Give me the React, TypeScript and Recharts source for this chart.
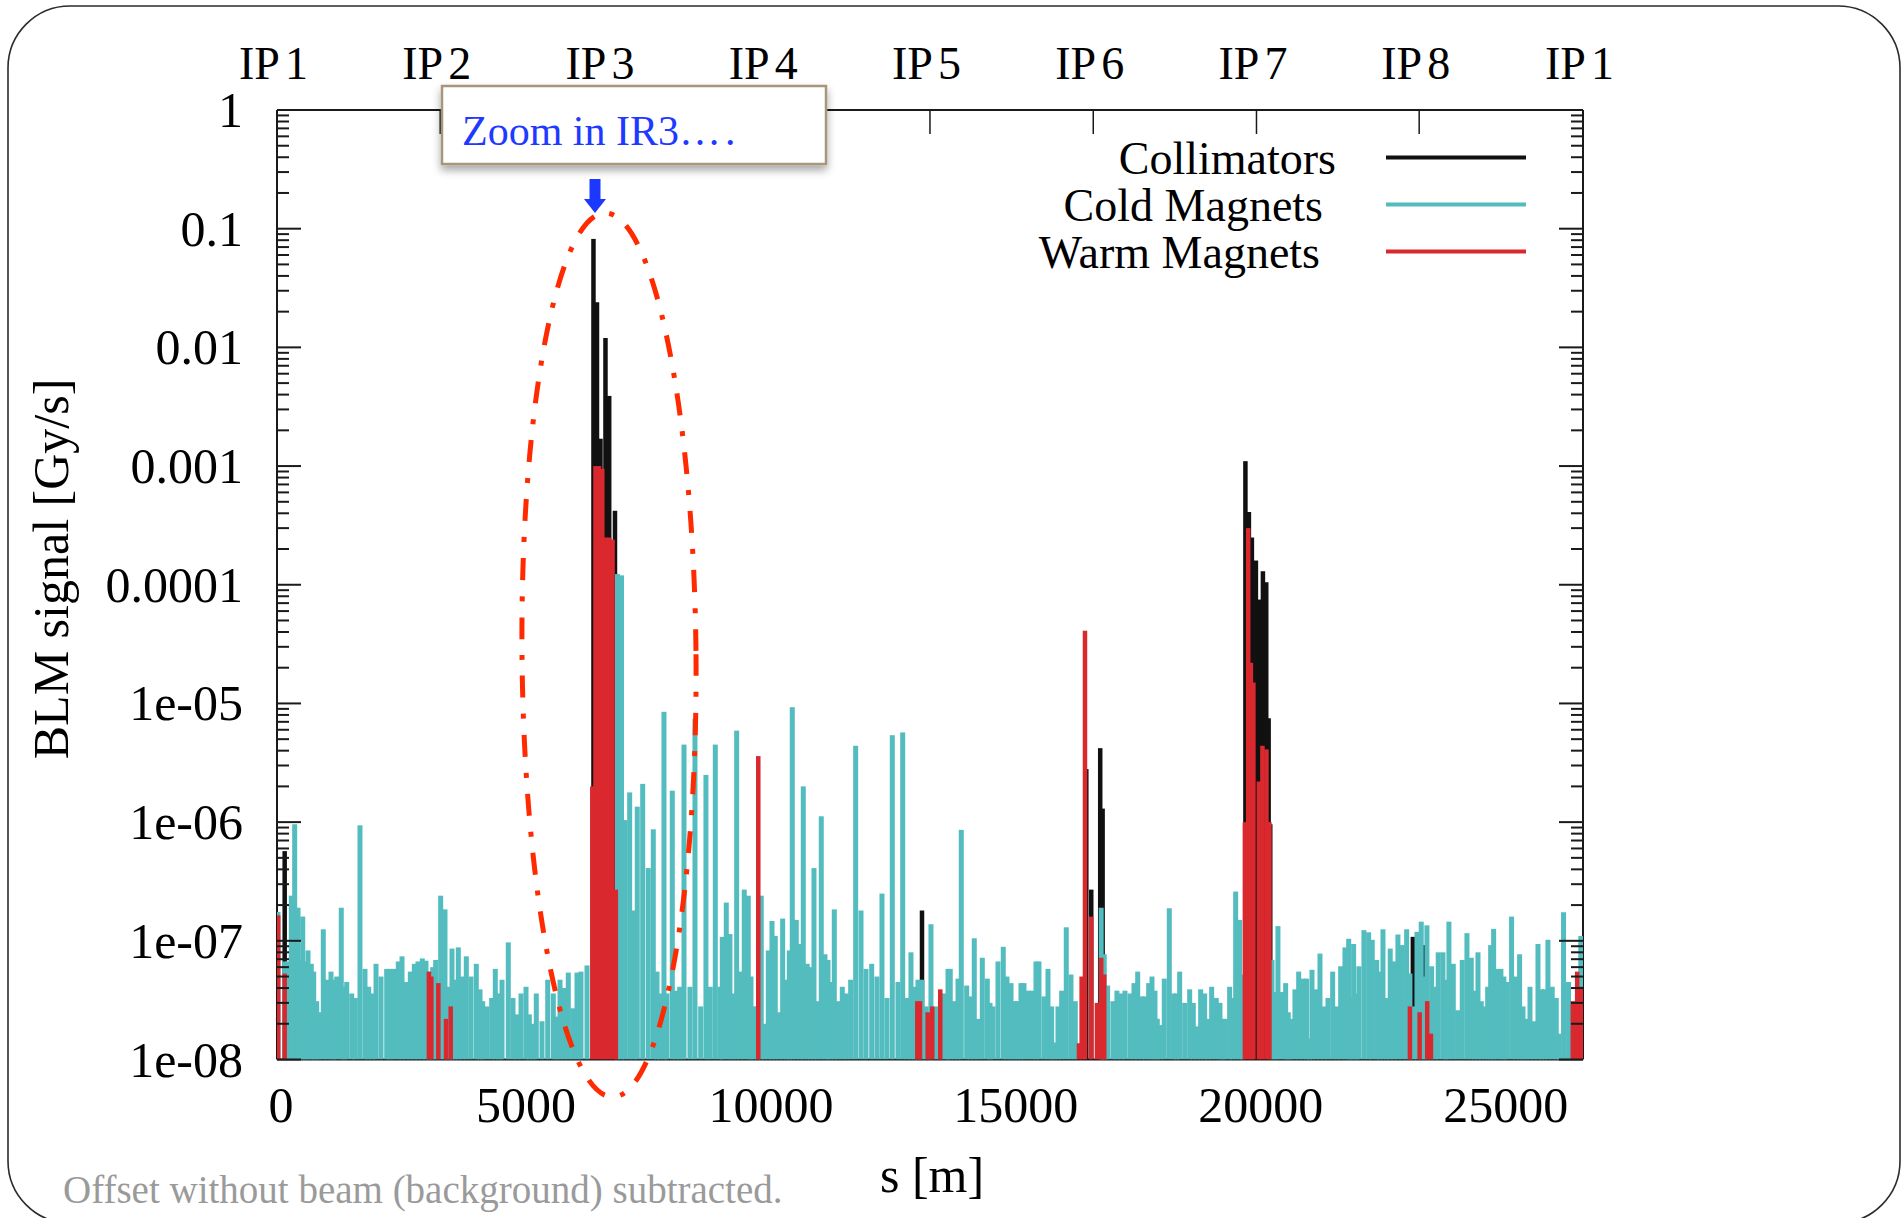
import React from 'react';
import { ComposedChart, Scatter, XAxis, YAxis, Legend } from 'recharts';

// LHC ring, metres
const RING = 26659;
const IP_POS = [0, 3332, 6664, 9997, 13329, 16662, 19994, 23315, 26659];
const IP_LABELS = ['IP1', 'IP2', 'IP3', 'IP4', 'IP5', 'IP6', 'IP7', 'IP8', 'IP1'];
const S_TICKS = [0, 5000, 10000, 15000, 20000, 25000];
const Y_DECADES = [1e-8, 1e-7, 1e-6, 1e-5, 1e-4, 1e-3, 1e-2, 1e-1, 1];
const Y_TICK_LABELS = ['1e-08', '1e-07', '1e-06', '1e-05', '0.0001', '0.001', '0.01', '0.1', '1'];
const MINOR_STEPS = [2, 3, 4, 5, 6, 7, 8, 9];

const SERIES_ORDER = ['Collimators', 'Cold Magnets', 'Warm Magnets'];

// [s (m), BLM signal (Gy/s)]
const collimators: [number, number][] = [
  [157, 5.7e-7], [6460, 8.2e-2], [6532, 2.4e-2], [6603, 1.7e-3], [6705, 1.2e-2], [6781, 3.9e-3],
  [6899, 4.2e-4], [13166, 1.8e-7], [16520, 2.8e-6], [16621, 2.7e-7], [16804, 4.2e-6], [16853, 1.3e-6],
  [19768, 1.1e-3], [19839, 4.1e-4], [19900, 2.5e-4], [19982, 1.6e-4], [20054, 7.5e-5], [20125, 1.3e-4],
  [20193, 1.05e-4], [20242, 7.5e-6], [20275, 9.6e-7], [23186, 1.08e-7], [23418, 9.2e-8],
];

const coldMagnets: [number, number][] = [
  [20, 1.75e-7], [157, 6.7e-8], [225, 6.7e-8], [292, 2.4e-7], [361, 9.6e-7], [429, 1.9e-7], [469, 6.8e-8],
  [525, 1.6e-7], [578, 6.7e-8], [633, 8.3e-8], [700, 6.4e-8], [749, 5.5e-8], [810, 3.1e-8], [863, 2.5e-8],
  [945, 1.25e-7], [1021, 4.7e-8], [1102, 5.5e-8], [1157, 4.7e-8], [1219, 5.0e-8], [1312, 1.9e-7],
  [1368, 4.1e-8], [1423, 4.5e-8], [1525, 3.6e-8], [1598, 3.3e-8], [1694, 9.4e-7], [1796, 5.8e-8],
  [1872, 4.1e-8], [1939, 3.6e-8], [2021, 6.4e-8], [2123, 5.0e-8], [2239, 5.8e-8], [2307, 5.8e-8],
  [2382, 5.8e-8], [2476, 6.7e-8], [2552, 7.4e-8], [2633, 4.5e-8], [2721, 5.5e-8], [2803, 6.4e-8],
  [2878, 6.7e-8], [2966, 7.1e-8], [3041, 6.8e-8], [3109, 5.5e-8], [3178, 6.0e-8], [3239, 6.9e-8],
  [3341, 2.4e-7], [3429, 1.84e-7], [3505, 4.1e-8], [3572, 8.6e-8], [3633, 4.7e-8], [3701, 8.8e-8],
  [3782, 5.0e-8], [3864, 7.4e-8], [3960, 5.0e-8], [4068, 6.4e-8], [4144, 3.9e-8], [4199, 3.1e-8],
  [4287, 2.8e-8], [4382, 3.3e-8], [4456, 5.8e-8], [4531, 3.6e-8], [4593, 4.7e-8], [4721, 9.7e-8],
  [4817, 3.3e-8], [4893, 2.4e-8], [4981, 3.6e-8], [5083, 4.1e-8], [5150, 2.4e-8], [5220, 2.0e-8],
  [5293, 3.6e-8], [5409, 2.1e-8], [5526, 4.7e-8], [5640, 3.6e-8], [5709, 2.3e-8], [5777, 4.7e-8],
  [5858, 4.0e-8], [5946, 5.4e-8], [6036, 2.7e-8], [6124, 5.4e-8], [6205, 5.5e-8], [6328, 6.2e-8],
  [6950, 1.23e-4], [7032, 1.2e-4], [7103, 1.04e-6], [7199, 1.78e-6], [7281, 1.8e-7], [7354, 1.35e-6],
  [7465, 2.1e-6], [7579, 4.1e-7], [7681, 8.7e-7], [7757, 5.5e-8], [7812, 3.6e-8], [7899, 8.5e-6],
  [7961, 3.6e-8], [8069, 1.84e-6], [8144, 3.8e-8], [8220, 4.1e-8], [8308, 4.5e-6], [8430, 4.1e-8],
  [8532, 7.4e-6], [8648, 2.8e-8], [8756, 2.5e-6], [8844, 4.1e-8], [8947, 4.5e-6], [9043, 4.1e-8],
  [9090, 1.08e-7], [9171, 2.1e-7], [9246, 1.14e-7], [9308, 3.6e-8], [9383, 5.9e-6], [9457, 5.5e-8],
  [9538, 2.7e-7], [9620, 2.4e-7], [9675, 5.0e-8], [9730, 2.8e-8], [9808, 2.8e-8], [9885, 2.4e-7],
  [9947, 2.0e-8], [10028, 8.3e-8], [10104, 1.47e-7], [10171, 1.1e-7], [10247, 2.5e-8], [10322, 1.54e-7],
  [10404, 4.7e-8], [10457, 8.3e-8], [10518, 9.3e-6], [10600, 1.5e-7], [10675, 9.4e-8], [10743, 2.0e-6],
  [10824, 6.4e-8], [10886, 6.0e-8], [10961, 4.1e-7], [11029, 3.1e-8], [11110, 1.12e-6], [11186, 7.7e-8],
  [11247, 6.9e-8], [11302, 4.5e-8], [11376, 1.84e-7], [11451, 3.1e-8], [11539, 4.1e-8], [11621, 3.6e-8],
  [11710, 4.7e-8], [11812, 4.4e-6], [11921, 1.8e-7], [12023, 5.8e-8], [12139, 6.4e-8], [12247, 5.0e-8],
  [12349, 2.5e-7], [12451, 3.3e-8], [12560, 5.4e-6], [12676, 4.5e-8], [12772, 5.7e-6], [12860, 3.3e-8],
  [12941, 8.0e-8], [13009, 4.1e-8], [13084, 4.7e-8], [13166, 4.7e-8], [13253, 2.8e-8], [13349, 1.38e-7],
  [13457, 2.8e-8], [13548, 3.6e-8], [13635, 3.6e-8], [13697, 5.8e-8], [13743, 5.8e-8], [13825, 3.1e-8],
  [13901, 4.8e-8], [13968, 8.6e-7], [14078, 4.2e-8], [14152, 3.4e-8], [14233, 1.05e-7], [14309, 2.2e-8],
  [14397, 7.2e-8], [14499, 4.8e-8], [14554, 3.0e-8], [14615, 2.8e-8], [14717, 6.7e-8], [14825, 8.9e-8],
  [14901, 5.0e-8], [14983, 4.4e-8], [15050, 3.1e-8], [15119, 3.1e-8], [15187, 4.4e-8], [15248, 4.4e-8],
  [15335, 3.8e-8], [15417, 3.8e-8], [15493, 6.7e-8], [15554, 6.7e-8], [15656, 3.4e-8], [15738, 5.8e-8],
  [15813, 2.8e-8], [15866, 1.39e-8], [15942, 2.8e-8], [16017, 3.8e-8], [16111, 1.3e-7], [16207, 5.2e-8],
  [16295, 3.1e-8], [16824, 1.9e-7], [16886, 7.7e-8], [16955, 4.2e-8], [17063, 3.1e-8], [17145, 3.8e-8],
  [17227, 3.6e-8], [17309, 3.8e-8], [17411, 3.6e-8], [17493, 4.4e-8], [17569, 5.5e-8], [17650, 3.4e-8],
  [17718, 3.4e-8], [17793, 4.4e-8], [17861, 5.0e-8], [17922, 3.8e-8], [17969, 2.2e-8], [18030, 1.95e-8],
  [18112, 4.8e-8], [18214, 1.88e-7], [18304, 3.6e-8], [18365, 3.6e-8], [18426, 5.5e-8], [18528, 3.0e-8],
  [18630, 3.9e-8], [18704, 3.0e-8], [18779, 1.9e-8], [18854, 3.9e-8], [18936, 3.6e-8], [19004, 2.2e-8],
  [19079, 4.1e-8], [19173, 3.3e-8], [19248, 3.0e-8], [19303, 2.2e-8], [19357, 2.2e-8], [19446, 4.1e-8],
  [19493, 3.3e-8], [19569, 2.6e-7], [19650, 1.5e-7], [19703, 5.2e-8], [20310, 6.9e-8], [20371, 3.7e-8],
  [20432, 1.33e-7], [20514, 3.7e-8], [20589, 4.4e-8], [20642, 2.5e-8], [20698, 2.2e-8], [20779, 3.9e-8],
  [20855, 5.5e-8], [20937, 4.8e-8], [21018, 4.8e-8], [21075, 1.5e-8], [21127, 5.7e-8], [21208, 3.9e-8],
  [21290, 7.8e-8], [21371, 2.8e-8], [21453, 3.3e-8], [21549, 5.5e-8], [21630, 2.8e-8], [21712, 6.1e-8],
  [21800, 8.8e-8], [21876, 1.04e-7], [21923, 3.3e-8], [21977, 9.4e-8], [22039, 3.6e-8], [22085, 6.1e-8],
  [22187, 1.23e-7], [22283, 1.18e-7], [22357, 1.02e-7], [22447, 6.9e-8], [22508, 5.5e-8], [22576, 1.25e-7],
  [22651, 3.3e-8], [22724, 8.6e-8], [22800, 6.7e-8], [22881, 1.13e-7], [22969, 9.2e-8], [23059, 1.25e-7],
  [23126, 5.3e-8], [23198, 2.8e-8], [23270, 1.19e-7], [23357, 1.45e-7], [23418, 5.0e-8], [23473, 1.35e-7],
  [23569, 6.1e-8], [23642, 4.1e-8], [23704, 8.0e-8], [23800, 8.0e-8], [23861, 4.7e-8], [23922, 1.45e-7],
  [24011, 6.4e-8], [24100, 2.6e-8], [24194, 6.9e-8], [24290, 1.16e-7], [24378, 7.2e-8], [24448, 3.8e-8],
  [24515, 8.0e-8], [24582, 3.1e-8], [24651, 2.8e-8], [24713, 4.1e-8], [24774, 9.2e-8], [24835, 1.26e-7],
  [24902, 5.8e-8], [24983, 5.8e-8], [25044, 5.0e-8], [25099, 4.5e-8], [25201, 1.6e-7], [25283, 5.0e-8],
  [25365, 7.7e-8], [25434, 2.8e-8], [25501, 2.2e-8], [25577, 4.1e-8], [25658, 2.1e-8], [25740, 9.4e-8],
  [25812, 3.9e-8], [25873, 3.9e-8], [25943, 1.02e-7], [26031, 4.1e-8], [26113, 3.3e-8], [26168, 1.65e-8],
  [26262, 1.74e-7], [26364, 4.5e-8], [26451, 2.5e-8], [26614, 1.1e-7],
];

const warmMagnets: [number, number][] = [
  [25, 1.64e-7], [157, 5.3e-8], [3100, 5.5e-8], [3150, 5.0e-8], [3293, 4.4e-8], [3450, 2.2e-8], [3546, 2.8e-8],
  [6436, 2.0e-6], [6501, 1.0e-3], [6571, 1.0e-3], [6640, 9.5e-4], [6709, 2.5e-4], [6781, 2.5e-4],
  [6850, 2.4e-4], [6916, 2.7e-7], [9824, 3.6e-6], [13070, 3.1e-8], [13125, 3.1e-8], [13282, 2.5e-8],
  [13376, 2.8e-8], [13539, 3.9e-8], [16370, 1.37e-8], [16425, 5.0e-8], [16493, 4.1e-5], [16620, 1.6e-7],
  [16737, 3.0e-8], [16824, 7.2e-8], [16886, 5.2e-8], [19757, 1.0e-6], [19825, 3.0e-4], [19880, 2.2e-5],
  [19931, 1.5e-5], [20043, 2.2e-6], [20115, 4.4e-6], [20197, 4.1e-6], [20258, 1.0e-6], [23126, 2.8e-8],
  [23324, 2.5e-8], [23479, 3.1e-8], [23555, 1.65e-8], [26451, 3.1e-8], [26540, 5.5e-8], [26622, 4.1e-8],
];

const COLL_COLOR = '#111111';
const COLD_COLOR = '#53bcbe';
const WARM_COLOR = '#d9282e';
const AXIS_COLOR = '#1a1a1a';
const SERIF = '"Liberation Serif", "Times New Roman", Times, serif';

const W = 1903;
const H = 1218;
const MARGIN = { top: 70, right: 310, bottom: 98.5, left: 157 };
const TOP_AXIS_H = 40;
const BOTTOM_AXIS_H = 60;
const LEFT_AXIS_W = 120;
const RIGHT_AXIS_W = 10;
const PLOT_BOTTOM = H - MARGIN.bottom - BOTTOM_AXIS_H;

const toRows = (pts: [number, number][]) => pts.map(([s, v]) => ({ s, v }));
// anchor rows so the top (IP) axis has something to scale against
const ipRows = IP_POS.map((s) => ({ s, v: 1e-8 }));

const yTicks = [
  ...Y_DECADES,
  ...Y_DECADES.slice(0, -1).flatMap((d) => MINOR_STEPS.map((m) => m * d)),
].sort((a, b) => a - b);

const decadeIndex = (v: number) =>
  Y_DECADES.findIndex((d) => Math.abs(d - v) / d < 1e-6);

// vertical impulse from the point down to the bottom of the plot
const impulse = (color: string, w: number) => (p: any) => {
  const { cx, cy } = p;
  if (!Number.isFinite(cx) || !Number.isFinite(cy)) return <g />;
  return (
    <rect x={cx - w / 2} y={cy} width={w} height={Math.max(0, PLOT_BOTTOM - cy)} fill={color} />
  );
};

function LeftTick(props: any) {
  const { x, y, payload } = props;
  const idx = decadeIndex(payload.value);
  const major = idx >= 0;
  return (
    <g>
      <line x1={x} x2={x + (major ? 24 : 12)} y1={y} y2={y} stroke={AXIS_COLOR} strokeWidth={2} />
      {major && (
        <text x={x - 34} y={y + 17} textAnchor="end" fontSize={50} fontFamily={SERIF} fill="#000">
          {Y_TICK_LABELS[idx]}
        </text>
      )}
    </g>
  );
}

function RightTick(props: any) {
  const { x, y, payload } = props;
  const major = decadeIndex(payload.value) >= 0;
  return <line x1={x - (major ? 24 : 12)} x2={x} y1={y} y2={y} stroke={AXIS_COLOR} strokeWidth={2} />;
}

function TopTick(props: any) {
  const { x, y, payload, index } = props;
  const i = IP_POS.indexOf(payload.value);
  const label = IP_LABELS[i >= 0 ? i : index];
  return (
    <g>
      <line x1={x} x2={x} y1={y} y2={y + 24} stroke={AXIS_COLOR} strokeWidth={1.5} />
      <text x={x - 3.5} y={y - 31} textAnchor="middle" fontSize={46} fontFamily={SERIF} fill="#000">
        {label.slice(0, 2)}
        <tspan dx={5}>{label.slice(2)}</tspan>
      </text>
    </g>
  );
}

function BottomTick(props: any) {
  const { x, y, payload } = props;
  return (
    <text x={x + 4} y={y + 62} textAnchor="middle" fontSize={50} fontFamily={SERIF} fill="#000">
      {payload.value}
    </text>
  );
}

const LEGEND_TEXT_END = [336, 323, 320];

function LegendBox({ payload }: any) {
  const items = (payload || [])
    .filter((p: any) => SERIES_ORDER.includes(p.value))
    .sort((a: any, b: any) => SERIES_ORDER.indexOf(a.value) - SERIES_ORDER.indexOf(b.value));
  return (
    <svg width={560} height={170} style={{ display: 'block' }}>
      {items.map((p: any, i: number) => (
        <g key={p.value}>
          <text
            x={LEGEND_TEXT_END[i]}
            y={54 + i * 47}
            textAnchor="end"
            fontSize={46}
            fontFamily={SERIF}
            fill="#000"
          >
            {p.value}
          </text>
          <line x1={386} x2={526} y1={37.5 + i * 47} y2={37.5 + i * 47} stroke={p.color} strokeWidth={4} />
        </g>
      ))}
    </svg>
  );
}

export default function App() {
  return (
    <div style={{ position: 'absolute', left: 0, top: 0, width: W, height: H, background: '#fff' }}>
      <ComposedChart width={W} height={H} margin={MARGIN} style={{ fontFamily: SERIF }}>
        <Scatter
          name="Collimators"
          data={toRows(collimators)}
          fill={COLL_COLOR}
          shape={impulse(COLL_COLOR, 4.5)}
          isAnimationActive={false}
        />
        <Scatter
          name="Cold Magnets"
          data={toRows(coldMagnets)}
          fill={COLD_COLOR}
          shape={impulse(COLD_COLOR, 5)}
          isAnimationActive={false}
        />
        <Scatter
          name="Warm Magnets"
          data={toRows(warmMagnets)}
          fill={WARM_COLOR}
          shape={impulse(WARM_COLOR, 4.5)}
          isAnimationActive={false}
        />
        <Scatter
          name="ip"
          xAxisId="top"
          data={ipRows}
          legendType="none"
          shape={() => <g />}
          isAnimationActive={false}
        />
        <XAxis
          dataKey="s"
          type="number"
          domain={[0, RING]}
          allowDataOverflow
          ticks={S_TICKS}
          interval={0}
          height={BOTTOM_AXIS_H}
          tickSize={0}
          tickMargin={0}
          tickLine={false}
          axisLine={{ stroke: AXIS_COLOR, strokeWidth: 2 }}
          tick={<BottomTick />}
        />
        <XAxis
          xAxisId="top"
          dataKey="s"
          orientation="top"
          type="number"
          domain={[0, RING]}
          allowDataOverflow
          ticks={IP_POS}
          interval={0}
          height={TOP_AXIS_H}
          tickSize={0}
          tickMargin={0}
          tickLine={false}
          axisLine={{ stroke: AXIS_COLOR, strokeWidth: 2 }}
          tick={<TopTick />}
        />
        <YAxis
          dataKey="v"
          type="number"
          scale="log"
          domain={[1e-8, 1]}
          allowDataOverflow
          ticks={yTicks}
          interval={0}
          width={LEFT_AXIS_W}
          tickSize={0}
          tickMargin={0}
          tickLine={false}
          axisLine={{ stroke: AXIS_COLOR, strokeWidth: 2 }}
          tick={<LeftTick />}
        />
        <YAxis
          yAxisId="right"
          orientation="right"
          type="number"
          scale="log"
          domain={[1e-8, 1]}
          allowDataOverflow
          ticks={yTicks}
          interval={0}
          width={RIGHT_AXIS_W}
          tickSize={0}
          tickMargin={0}
          tickLine={false}
          axisLine={{ stroke: AXIS_COLOR, strokeWidth: 2 }}
          tick={<RightTick />}
        />
        <Legend
          layout="vertical"
          align="center"
          verticalAlign="middle"
          wrapperStyle={{ left: 1000, top: 120, width: 560, height: 170 }}
          content={<LegendBox />}
        />
      </ComposedChart>

      <svg
        width={W}
        height={H}
        style={{ position: 'absolute', left: 0, top: 0, pointerEvents: 'none' }}
        fontFamily={SERIF}
      >
        <defs>
          <filter id="boxShadow" x="-10%" y="-30%" width="120%" height="170%">
            <feDropShadow dx="0" dy="5" stdDeviation="4" floodColor="#000" floodOpacity="0.35" />
          </filter>
        </defs>
        <rect x={8} y={6} width={1892} height={1217} rx={62} fill="none" stroke="#2b2b2b" strokeWidth={1.6} />
        <ellipse
          cx={609}
          cy={655}
          rx={87}
          ry={442}
          transform="rotate(-0.5 609 655)"
          fill="none"
          stroke="#ff2a00"
          strokeWidth={5}
          strokeDasharray="22 16 5 16"
        />
        <polygon
          points="589.5,179 600.5,179 600.5,199 606,199 595,213 584,199 589.5,199"
          fill="#1c38ff"
        />
        <rect
          x={442}
          y={86}
          width={384}
          height={78}
          fill="#fff"
          stroke="#a8967a"
          strokeWidth={2.5}
          filter="url(#boxShadow)"
        />
        <text x={462} y={145} fontSize={42} fill="#1f3aff">
          Zoom in IR3<tspan letterSpacing={4}>….</tspan>
        </text>
        <text transform="translate(68,569) rotate(-90)" textAnchor="middle" fontSize={50} fill="#000">
          BLM signal [Gy/s]
        </text>
        <text x={932} y={1192} textAnchor="middle" fontSize={50} fill="#000">
          s [m]
        </text>
        <text x={63} y={1203} fontSize={39} fill="#9a9a9a">
          Offset without beam (background) subtracted.
        </text>
      </svg>
    </div>
  );
}
